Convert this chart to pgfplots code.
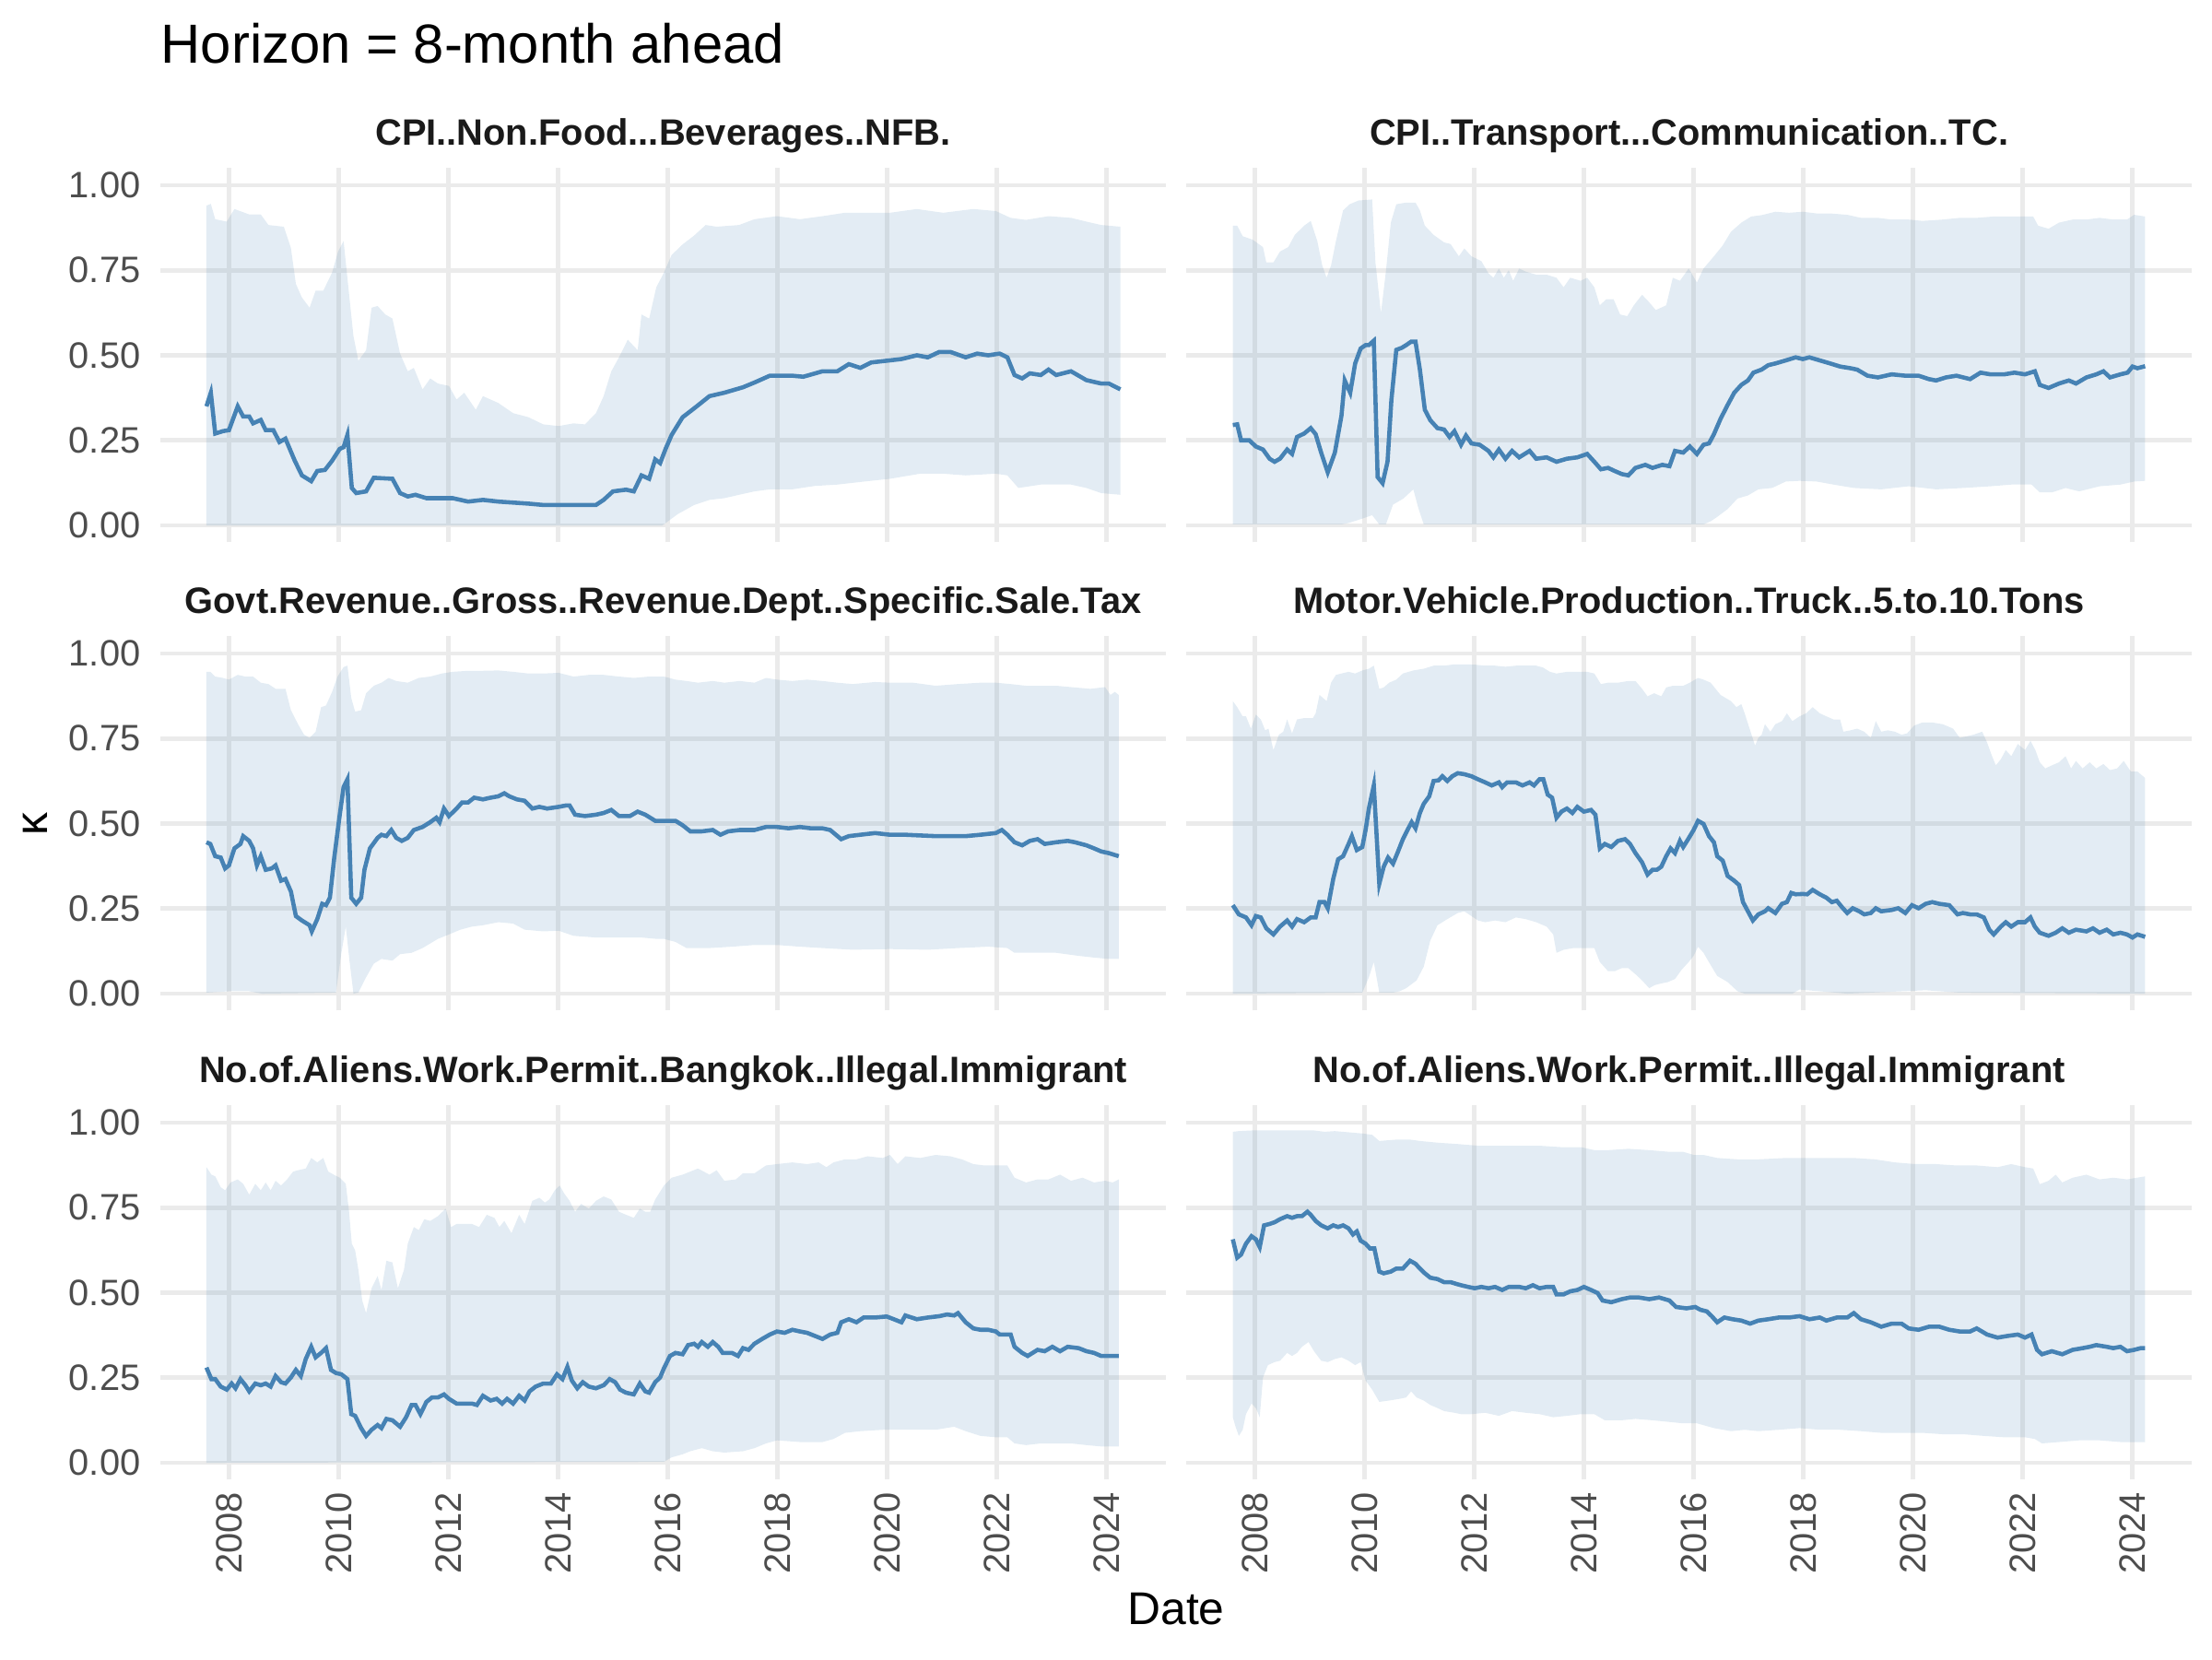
\documentclass[border=0pt]{standalone}
\usepackage{fontspec}
\setmainfont{Liberation Sans}
\usepackage{pgfplots}
\pgfplotsset{compat=1.18}
\usepgfplotslibrary{fillbetween}
\definecolor{steel}{RGB}{70,130,180}
\definecolor{gridc}{RGB}{235,235,235}
\definecolor{tickc}{RGB}{77,77,77}
\definecolor{stripc}{RGB}{26,26,26}
\pgfplotsset{
  every axis title/.style={at={(0.5,1)}, anchor=base, yshift=6.1bp, font=\bfseries\fontsize{9.6}{11}\selectfont, text=stripc, inner sep=0pt},
  panel/.style={
    scale only axis, width=261.84bp, height=97.44bp,
    xmin=2006.75, xmax=2025.08, ymin=-0.05, ymax=1.05,
    xtick={2008,2010,...,2024}, ytick={0,0.25,0.5,0.75,1},
    grid=major, major grid style={gridc, line width=1.16pt},
    axis line style={draw=none}, major tick length=0pt, tick style={draw=none},
    xticklabels={}, yticklabels={},
    anchor=north west,
  },
  ylab/.style={yticklabels={0.00,0.25,0.50,0.75,1.00},
    yticklabel style={font=\fontsize{9.6}{11}\selectfont, text=tickc, anchor=east, inner xsep=5bp, inner ysep=0pt}},
  xlab/.style={xticklabels={2008,2010,2012,2014,2016,2018,2020,2022,2024},
    xticklabel style={font=\fontsize{9.6}{11}\selectfont, text=tickc, rotate=90, anchor=east, inner xsep=3bp, inner ysep=0pt}},
  band/.style={draw=none, forget plot},
  mline/.style={steel, line width=1.1pt, no marks},
  rib/.style={fill=steel, fill opacity=0.15, draw=none},
}
\begin{document}
\begin{tikzpicture}
\path (0,0) rectangle (576bp,432bp);
\node[anchor=base west, inner sep=0pt, font=\fontsize{14.4}{16}\selectfont] at (41.76bp,415.56bp) {Horizon = 8-month ahead};
\node[anchor=base, inner sep=0pt, font=\fontsize{12}{14}\selectfont] at (306.24bp,9.12bp) {Date};
\node[rotate=90, inner sep=0pt, font=\fontsize{12}{14}\selectfont] at (9.12bp,217.44bp) {κ};

% ---------- Panel 1 ----------
\begin{axis}[panel, ylab, at={(41.76bp,388.2bp)}, title={CPI..Non.Food...Beverages..NFB.}]
\addplot[band, name path=p1u] coordinates {(2007.59,0.94)(2007.67,0.945)(2007.75,0.90)(2007.96,0.893)(2008.10,0.93)(2008.37,0.914)(2008.58,0.914)(2008.72,0.883)(2009.00,0.878)(2009.13,0.815)(2009.22,0.71)(2009.33,0.67)(2009.47,0.64)(2009.58,0.69)(2009.72,0.69)(2009.88,0.743)(2009.99,0.805)(2010.09,0.836)(2010.19,0.68)(2010.27,0.556)(2010.36,0.484)(2010.50,0.515)(2010.60,0.64)(2010.71,0.645)(2010.85,0.62)(2010.98,0.608)(2011.12,0.505)(2011.26,0.453)(2011.37,0.463)(2011.53,0.40)(2011.67,0.432)(2011.81,0.417)(2012.01,0.41)(2012.15,0.37)(2012.29,0.39)(2012.50,0.34)(2012.63,0.38)(2012.91,0.36)(2013.18,0.33)(2013.46,0.318)(2013.73,0.297)(2014.01,0.292)(2014.28,0.30)(2014.49,0.297)(2014.69,0.33)(2014.83,0.38)(2014.97,0.453)(2015.11,0.494)(2015.27,0.546)(2015.45,0.515)(2015.52,0.62)(2015.66,0.608)(2015.79,0.70)(2015.93,0.743)(2016.07,0.795)(2016.27,0.826)(2016.48,0.852)(2016.69,0.883)(2016.89,0.878)(2017.30,0.883)(2017.58,0.90)(2017.99,0.909)(2018.41,0.90)(2018.82,0.909)(2019.23,0.919)(2019.64,0.919)(2020.05,0.919)(2020.54,0.93)(2021.02,0.919)(2021.57,0.93)(2021.98,0.924)(2022.25,0.904)(2022.53,0.898)(2022.94,0.909)(2023.35,0.904)(2023.63,0.893)(2023.90,0.883)(2024.25,0.878)};
\addplot[band, name path=p1l] coordinates {(2007.59,0)(2015.90,0)(2015.96,0.007)(2016.18,0.033)(2016.48,0.06)(2016.76,0.075)(2017.03,0.08)(2017.30,0.09)(2017.58,0.10)(2017.86,0.106)(2018.27,0.106)(2018.68,0.116)(2019.09,0.12)(2019.64,0.13)(2020.05,0.137)(2020.60,0.152)(2021.02,0.152)(2021.43,0.147)(2021.98,0.152)(2022.19,0.147)(2022.39,0.11)(2022.80,0.12)(2023.35,0.12)(2023.63,0.11)(2023.90,0.095)(2024.25,0.09)};
\addplot[rib] fill between[of=p1u and p1l];
\addplot[mline] coordinates {(2007.59,0.35)(2007.67,0.39)(2007.75,0.27)(2007.89,0.277)(2008.00,0.28)(2008.16,0.35)(2008.26,0.32)(2008.37,0.32)(2008.44,0.30)(2008.58,0.31)(2008.67,0.28)(2008.81,0.28)(2008.92,0.245)(2009.03,0.255)(2009.20,0.19)(2009.33,0.147)(2009.50,0.13)(2009.61,0.16)(2009.75,0.163)(2009.88,0.19)(2010.02,0.225)(2010.09,0.23)(2010.16,0.266)(2010.24,0.11)(2010.32,0.095)(2010.50,0.10)(2010.64,0.14)(2010.98,0.137)(2011.12,0.095)(2011.26,0.085)(2011.40,0.09)(2011.60,0.08)(2011.81,0.08)(2012.08,0.08)(2012.36,0.07)(2012.63,0.075)(2012.91,0.07)(2013.46,0.064)(2013.73,0.06)(2014.01,0.06)(2014.69,0.06)(2014.83,0.075)(2015.00,0.10)(2015.24,0.105)(2015.38,0.10)(2015.52,0.147)(2015.66,0.137)(2015.77,0.194)(2015.86,0.183)(2015.96,0.225)(2016.07,0.266)(2016.27,0.318)(2016.48,0.344)(2016.76,0.38)(2017.03,0.39)(2017.37,0.406)(2017.58,0.42)(2017.86,0.44)(2018.27,0.44)(2018.47,0.437)(2018.82,0.453)(2019.09,0.453)(2019.30,0.474)(2019.51,0.463)(2019.71,0.479)(2019.99,0.484)(2020.26,0.489)(2020.54,0.50)(2020.74,0.494)(2020.95,0.51)(2021.15,0.51)(2021.43,0.494)(2021.64,0.505)(2021.84,0.50)(2022.05,0.505)(2022.19,0.494)(2022.32,0.442)(2022.46,0.432)(2022.60,0.447)(2022.80,0.442)(2022.94,0.458)(2023.08,0.442)(2023.35,0.453)(2023.63,0.427)(2023.90,0.417)(2024.04,0.417)(2024.25,0.40)};
\end{axis}

% ---------- Panel 2 ----------
\begin{axis}[panel, at={(308.88bp,388.2bp)}, title={CPI..Transport...Communication..TC.}]
\addplot[band, name path=p2u] coordinates {(2007.60,0.881)(2007.68,0.881)(2007.78,0.85)(2007.96,0.84)(2008.15,0.818)(2008.21,0.773)(2008.34,0.773)(2008.46,0.805)(2008.61,0.818)(2008.73,0.854)(2008.90,0.881)(2009.02,0.895)(2009.14,0.836)(2009.23,0.764)(2009.31,0.728)(2009.39,0.764)(2009.48,0.836)(2009.61,0.926)(2009.73,0.944)(2009.89,0.955)(2010.14,0.958)(2010.20,0.773)(2010.30,0.624)(2010.39,0.746)(2010.48,0.89)(2010.58,0.944)(2010.76,0.949)(2010.93,0.949)(2011.01,0.926)(2011.10,0.881)(2011.26,0.854)(2011.45,0.832)(2011.57,0.827)(2011.72,0.791)(2011.82,0.814)(2011.95,0.791)(2012.13,0.777)(2012.26,0.741)(2012.35,0.728)(2012.45,0.755)(2012.54,0.728)(2012.63,0.75)(2012.71,0.719)(2012.82,0.755)(2012.94,0.746)(2013.13,0.737)(2013.32,0.737)(2013.50,0.728)(2013.63,0.70)(2013.75,0.728)(2013.94,0.719)(2014.06,0.728)(2014.19,0.70)(2014.29,0.647)(2014.41,0.665)(2014.54,0.665)(2014.66,0.62)(2014.79,0.615)(2014.91,0.647)(2015.06,0.678)(2015.19,0.656)(2015.31,0.633)(2015.50,0.647)(2015.62,0.728)(2015.75,0.719)(2015.91,0.755)(2016.06,0.714)(2016.18,0.755)(2016.37,0.791)(2016.53,0.823)(2016.68,0.863)(2016.87,0.89)(2017.05,0.908)(2017.24,0.912)(2017.49,0.922)(2017.74,0.919)(2017.99,0.922)(2018.24,0.917)(2018.49,0.917)(2018.80,0.913)(2019.05,0.904)(2019.36,0.904)(2019.61,0.899)(2019.92,0.899)(2020.17,0.895)(2020.54,0.899)(2020.85,0.904)(2021.16,0.904)(2021.47,0.908)(2021.79,0.908)(2022.04,0.908)(2022.19,0.908)(2022.28,0.881)(2022.47,0.872)(2022.66,0.89)(2022.91,0.899)(2023.16,0.899)(2023.40,0.904)(2023.65,0.899)(2023.90,0.899)(2024.03,0.913)(2024.23,0.908)};
\addplot[band, name path=p2l] coordinates {(2007.60,0.003)(2009.58,0.003)(2009.71,0.007)(2009.96,0.02)(2010.14,0.03)(2010.27,0.003)(2010.39,0.003)(2010.52,0.061)(2010.71,0.079)(2010.89,0.106)(2010.98,0.052)(2011.08,0.003)(2016.18,0.003)(2016.31,0.012)(2016.43,0.025)(2016.62,0.048)(2016.80,0.079)(2016.99,0.088)(2017.18,0.106)(2017.43,0.11)(2017.68,0.129)(2017.93,0.131)(2018.24,0.129)(2018.55,0.12)(2018.92,0.11)(2019.42,0.106)(2019.92,0.115)(2020.42,0.106)(2020.91,0.11)(2021.41,0.115)(2021.79,0.12)(2022.16,0.12)(2022.31,0.097)(2022.53,0.097)(2022.78,0.11)(2023.03,0.10)(2023.40,0.115)(2023.78,0.12)(2024.03,0.129)(2024.23,0.131)};
\addplot[rib] fill between[of=p2u and p2l];
\addplot[mline] coordinates {(2007.60,0.295)(2007.68,0.297)(2007.75,0.25)(2007.90,0.25)(2008.02,0.232)(2008.15,0.223)(2008.27,0.196)(2008.36,0.187)(2008.46,0.196)(2008.59,0.223)(2008.68,0.21)(2008.77,0.26)(2008.90,0.27)(2009.02,0.286)(2009.11,0.268)(2009.21,0.214)(2009.33,0.156)(2009.46,0.214)(2009.58,0.322)(2009.64,0.426)(2009.74,0.39)(2009.83,0.476)(2009.93,0.52)(2010.02,0.53)(2010.08,0.53)(2010.17,0.543)(2010.24,0.142)(2010.33,0.124)(2010.42,0.187)(2010.49,0.368)(2010.58,0.516)(2010.68,0.522)(2010.76,0.53)(2010.85,0.54)(2010.93,0.54)(2011.01,0.458)(2011.10,0.34)(2011.20,0.309)(2011.33,0.286)(2011.45,0.282)(2011.55,0.26)(2011.64,0.277)(2011.76,0.237)(2011.85,0.264)(2011.95,0.241)(2012.10,0.237)(2012.26,0.219)(2012.35,0.20)(2012.45,0.223)(2012.57,0.196)(2012.69,0.219)(2012.82,0.20)(2013.01,0.219)(2013.13,0.196)(2013.32,0.20)(2013.50,0.187)(2013.69,0.196)(2013.88,0.20)(2014.06,0.21)(2014.19,0.187)(2014.31,0.165)(2014.44,0.169)(2014.56,0.16)(2014.69,0.151)(2014.81,0.147)(2014.94,0.169)(2015.12,0.178)(2015.25,0.169)(2015.43,0.178)(2015.56,0.174)(2015.66,0.219)(2015.81,0.214)(2015.93,0.232)(2016.06,0.21)(2016.18,0.237)(2016.28,0.241)(2016.37,0.268)(2016.49,0.313)(2016.62,0.354)(2016.74,0.39)(2016.87,0.413)(2016.99,0.426)(2017.09,0.449)(2017.24,0.458)(2017.36,0.471)(2017.49,0.476)(2017.68,0.485)(2017.86,0.494)(2017.99,0.489)(2018.11,0.494)(2018.30,0.485)(2018.49,0.476)(2018.67,0.467)(2018.86,0.462)(2018.98,0.458)(2019.17,0.44)(2019.36,0.435)(2019.61,0.444)(2019.86,0.44)(2020.10,0.44)(2020.29,0.43)(2020.42,0.426)(2020.60,0.435)(2020.79,0.44)(2021.04,0.43)(2021.23,0.449)(2021.41,0.444)(2021.66,0.444)(2021.85,0.449)(2022.04,0.444)(2022.22,0.453)(2022.31,0.413)(2022.47,0.404)(2022.66,0.417)(2022.84,0.426)(2022.97,0.417)(2023.16,0.435)(2023.34,0.444)(2023.47,0.453)(2023.59,0.435)(2023.78,0.444)(2023.91,0.449)(2024.00,0.467)(2024.09,0.462)(2024.23,0.468)};
\end{axis}

% ---------- Panel 3 ----------
\begin{axis}[panel, ylab, at={(41.76bp,266.28bp)}, title={Govt.Revenue..Gross..Revenue.Dept..Specific.Sale.Tax}]
\addplot[band, name path=p3u] coordinates {(2007.59,0.946)(2007.66,0.946)(2007.75,0.932)(2007.89,0.928)(2008.00,0.923)(2008.16,0.937)(2008.30,0.932)(2008.44,0.932)(2008.58,0.914)(2008.72,0.91)(2008.85,0.896)(2009.03,0.896)(2009.13,0.833)(2009.26,0.792)(2009.37,0.761)(2009.47,0.752)(2009.58,0.77)(2009.68,0.842)(2009.77,0.847)(2009.88,0.887)(2009.98,0.932)(2010.09,0.96)(2010.16,0.964)(2010.23,0.869)(2010.30,0.829)(2010.41,0.833)(2010.50,0.883)(2010.64,0.905)(2010.78,0.914)(2010.91,0.928)(2011.05,0.919)(2011.26,0.914)(2011.46,0.928)(2011.67,0.932)(2011.88,0.941)(2012.08,0.946)(2012.36,0.949)(2012.63,0.949)(2012.91,0.95)(2013.18,0.946)(2013.46,0.941)(2013.73,0.941)(2014.01,0.943)(2014.28,0.932)(2014.56,0.937)(2014.83,0.937)(2015.11,0.932)(2015.38,0.928)(2015.66,0.932)(2015.93,0.932)(2016.14,0.923)(2016.34,0.919)(2016.55,0.914)(2016.82,0.919)(2017.03,0.914)(2017.31,0.919)(2017.58,0.914)(2017.79,0.928)(2017.99,0.923)(2018.27,0.919)(2018.54,0.923)(2018.82,0.919)(2019.09,0.914)(2019.37,0.91)(2019.78,0.916)(2020.05,0.914)(2020.47,0.914)(2020.88,0.905)(2021.29,0.91)(2021.70,0.914)(2021.98,0.914)(2022.25,0.91)(2022.53,0.905)(2022.80,0.905)(2023.08,0.905)(2023.35,0.901)(2023.70,0.896)(2023.97,0.901)(2024.07,0.878)(2024.15,0.887)(2024.22,0.878)};
\addplot[band, name path=p3l] coordinates {(2007.59,0.003)(2008.00,0.007)(2008.37,0.007)(2008.60,0.0)(2009.95,0.003)(2010.05,0.12)(2010.13,0.197)(2010.20,0.093)(2010.27,0.0)(2010.36,0.003)(2010.50,0.048)(2010.64,0.088)(2010.78,0.102)(2010.98,0.097)(2011.12,0.116)(2011.33,0.12)(2011.53,0.134)(2011.81,0.161)(2012.01,0.174)(2012.22,0.188)(2012.43,0.197)(2012.63,0.201)(2012.91,0.21)(2013.18,0.206)(2013.39,0.188)(2013.73,0.183)(2014.01,0.185)(2014.28,0.17)(2014.69,0.165)(2015.11,0.165)(2015.52,0.165)(2015.79,0.161)(2015.93,0.161)(2016.14,0.152)(2016.34,0.134)(2016.76,0.134)(2017.17,0.138)(2017.58,0.143)(2017.99,0.143)(2018.41,0.138)(2018.82,0.134)(2019.37,0.129)(2020.05,0.131)(2020.74,0.129)(2021.29,0.134)(2021.84,0.138)(2022.19,0.134)(2022.32,0.12)(2022.67,0.12)(2023.08,0.12)(2023.49,0.111)(2023.77,0.106)(2024.04,0.102)(2024.22,0.102)};
\addplot[rib] fill between[of=p3u and p3l];
\addplot[mline] coordinates {(2007.59,0.445)(2007.66,0.44)(2007.75,0.404)(2007.85,0.40)(2007.93,0.368)(2008.00,0.377)(2008.10,0.427)(2008.21,0.44)(2008.26,0.463)(2008.37,0.449)(2008.44,0.427)(2008.51,0.377)(2008.58,0.404)(2008.67,0.364)(2008.78,0.368)(2008.85,0.377)(2008.95,0.332)(2009.03,0.337)(2009.13,0.30)(2009.22,0.228)(2009.33,0.215)(2009.47,0.201)(2009.51,0.183)(2009.61,0.219)(2009.70,0.264)(2009.77,0.26)(2009.84,0.282)(2009.92,0.40)(2010.02,0.526)(2010.09,0.607)(2010.16,0.63)(2010.23,0.282)(2010.32,0.264)(2010.41,0.282)(2010.47,0.364)(2010.57,0.427)(2010.71,0.458)(2010.78,0.467)(2010.87,0.463)(2010.96,0.481)(2011.05,0.458)(2011.15,0.449)(2011.26,0.458)(2011.37,0.481)(2011.53,0.49)(2011.67,0.504)(2011.78,0.517)(2011.84,0.504)(2011.92,0.544)(2012.01,0.522)(2012.15,0.544)(2012.25,0.562)(2012.36,0.562)(2012.47,0.576)(2012.63,0.571)(2012.77,0.576)(2012.91,0.58)(2013.02,0.589)(2013.11,0.58)(2013.25,0.571)(2013.39,0.567)(2013.53,0.544)(2013.66,0.549)(2013.80,0.544)(2014.01,0.549)(2014.14,0.553)(2014.21,0.553)(2014.31,0.526)(2014.49,0.522)(2014.69,0.526)(2014.83,0.531)(2014.97,0.54)(2015.11,0.522)(2015.31,0.522)(2015.45,0.535)(2015.59,0.526)(2015.77,0.508)(2015.93,0.508)(2016.14,0.508)(2016.27,0.495)(2016.41,0.477)(2016.62,0.477)(2016.82,0.481)(2016.96,0.467)(2017.10,0.477)(2017.31,0.481)(2017.58,0.481)(2017.79,0.49)(2017.99,0.49)(2018.20,0.486)(2018.41,0.49)(2018.61,0.486)(2018.82,0.486)(2018.96,0.481)(2019.16,0.454)(2019.30,0.463)(2019.51,0.467)(2019.78,0.472)(2020.05,0.467)(2020.33,0.467)(2020.60,0.465)(2020.88,0.463)(2021.15,0.463)(2021.43,0.463)(2021.70,0.467)(2021.98,0.472)(2022.09,0.481)(2022.19,0.467)(2022.32,0.445)(2022.46,0.436)(2022.60,0.449)(2022.74,0.454)(2022.87,0.44)(2023.08,0.445)(2023.29,0.449)(2023.42,0.445)(2023.63,0.436)(2023.77,0.427)(2023.90,0.418)(2024.04,0.413)(2024.22,0.404)};
\end{axis}

% ---------- Panel 4 ----------
\begin{axis}[panel, at={(308.88bp,266.28bp)}, title={Motor.Vehicle.Production..Truck..5.to.10.Tons}]
\addplot[band, name path=p4u] coordinates {(2007.60,0.86)(2007.68,0.842)(2007.78,0.815)(2007.84,0.815)(2007.93,0.779)(2008.02,0.82)(2008.11,0.806)(2008.19,0.774)(2008.25,0.779)(2008.34,0.716)(2008.44,0.761)(2008.52,0.77)(2008.59,0.806)(2008.68,0.765)(2008.77,0.806)(2008.90,0.81)(2009.06,0.81)(2009.11,0.824)(2009.18,0.878)(2009.31,0.86)(2009.39,0.914)(2009.48,0.937)(2009.58,0.941)(2009.71,0.946)(2009.83,0.941)(2009.96,0.95)(2010.08,0.955)(2010.17,0.964)(2010.27,0.896)(2010.35,0.90)(2010.45,0.914)(2010.58,0.923)(2010.70,0.941)(2010.89,0.95)(2011.08,0.955)(2011.26,0.964)(2011.45,0.964)(2011.64,0.968)(2011.82,0.968)(2012.01,0.967)(2012.20,0.964)(2012.38,0.964)(2012.57,0.961)(2012.76,0.964)(2012.94,0.964)(2013.13,0.964)(2013.25,0.959)(2013.38,0.946)(2013.50,0.941)(2013.69,0.946)(2013.88,0.946)(2014.06,0.946)(2014.19,0.941)(2014.31,0.91)(2014.44,0.914)(2014.62,0.914)(2014.81,0.919)(2014.94,0.919)(2015.06,0.896)(2015.16,0.874)(2015.28,0.883)(2015.41,0.874)(2015.50,0.90)(2015.62,0.905)(2015.81,0.905)(2015.93,0.914)(2016.08,0.928)(2016.18,0.923)(2016.31,0.914)(2016.49,0.878)(2016.68,0.86)(2016.78,0.842)(2016.87,0.851)(2016.93,0.824)(2017.03,0.774)(2017.12,0.729)(2017.18,0.752)(2017.24,0.761)(2017.30,0.792)(2017.40,0.77)(2017.49,0.792)(2017.61,0.801)(2017.70,0.824)(2017.80,0.801)(2017.93,0.815)(2018.05,0.824)(2018.17,0.842)(2018.30,0.824)(2018.42,0.815)(2018.55,0.806)(2018.67,0.806)(2018.73,0.77)(2018.86,0.774)(2018.98,0.779)(2019.11,0.77)(2019.23,0.752)(2019.32,0.801)(2019.42,0.77)(2019.54,0.774)(2019.67,0.77)(2019.79,0.761)(2019.89,0.765)(2020.02,0.788)(2020.17,0.797)(2020.35,0.797)(2020.54,0.792)(2020.73,0.779)(2020.85,0.752)(2020.97,0.756)(2021.10,0.761)(2021.26,0.77)(2021.35,0.738)(2021.44,0.698)(2021.51,0.671)(2021.60,0.689)(2021.69,0.716)(2021.79,0.698)(2021.91,0.734)(2022.04,0.716)(2022.14,0.743)(2022.23,0.716)(2022.31,0.68)(2022.41,0.662)(2022.53,0.671)(2022.66,0.68)(2022.78,0.698)(2022.88,0.662)(2022.97,0.684)(2023.09,0.662)(2023.22,0.68)(2023.34,0.662)(2023.47,0.675)(2023.59,0.657)(2023.72,0.662)(2023.84,0.684)(2023.97,0.653)(2024.09,0.653)(2024.23,0.634)};
\addplot[band, name path=p4l] coordinates {(2007.60,0.0)(2009.96,0.003)(2010.08,0.048)(2010.17,0.093)(2010.27,0.003)(2010.52,0.003)(2010.64,0.007)(2010.76,0.016)(2010.95,0.039)(2011.08,0.079)(2011.20,0.156)(2011.33,0.201)(2011.51,0.219)(2011.70,0.237)(2011.82,0.242)(2011.95,0.228)(2012.07,0.215)(2012.20,0.21)(2012.38,0.215)(2012.57,0.21)(2012.76,0.224)(2012.94,0.219)(2013.13,0.21)(2013.32,0.197)(2013.44,0.174)(2013.50,0.12)(2013.63,0.129)(2013.81,0.134)(2014.00,0.134)(2014.19,0.134)(2014.29,0.093)(2014.44,0.066)(2014.56,0.066)(2014.69,0.075)(2014.81,0.075)(2014.94,0.057)(2015.06,0.039)(2015.19,0.016)(2015.29,0.025)(2015.41,0.03)(2015.53,0.034)(2015.66,0.043)(2015.78,0.07)(2015.91,0.093)(2016.00,0.111)(2016.08,0.138)(2016.18,0.12)(2016.31,0.084)(2016.43,0.052)(2016.62,0.034)(2016.80,0.007)(2016.93,0.0)(2017.80,0.0)(2017.93,0.012)(2018.30,0.007)(2018.80,0.0)(2020.23,0.01)(2020.85,0.003)(2024.23,0.0)};
\addplot[rib] fill between[of=p4u and p4l];
\addplot[mline] coordinates {(2007.60,0.26)(2007.71,0.233)(2007.84,0.224)(2007.94,0.201)(2008.02,0.228)(2008.11,0.224)(2008.21,0.192)(2008.34,0.174)(2008.46,0.197)(2008.59,0.215)(2008.68,0.197)(2008.77,0.219)(2008.90,0.21)(2009.02,0.224)(2009.11,0.224)(2009.18,0.269)(2009.27,0.269)(2009.33,0.251)(2009.43,0.337)(2009.52,0.395)(2009.61,0.404)(2009.71,0.44)(2009.77,0.463)(2009.86,0.422)(2009.96,0.431)(2010.02,0.481)(2010.08,0.544)(2010.17,0.612)(2010.27,0.323)(2010.35,0.373)(2010.43,0.40)(2010.52,0.382)(2010.60,0.413)(2010.70,0.454)(2010.80,0.486)(2010.86,0.504)(2010.93,0.486)(2011.01,0.531)(2011.08,0.558)(2011.18,0.58)(2011.26,0.625)(2011.35,0.627)(2011.42,0.639)(2011.51,0.625)(2011.60,0.639)(2011.70,0.648)(2011.82,0.645)(2011.95,0.639)(2012.07,0.63)(2012.20,0.621)(2012.32,0.612)(2012.45,0.621)(2012.51,0.607)(2012.60,0.621)(2012.76,0.621)(2012.88,0.612)(2013.01,0.621)(2013.09,0.612)(2013.19,0.63)(2013.26,0.63)(2013.34,0.585)(2013.42,0.576)(2013.50,0.517)(2013.59,0.535)(2013.69,0.544)(2013.79,0.531)(2013.88,0.549)(2014.00,0.535)(2014.13,0.54)(2014.21,0.526)(2014.29,0.427)(2014.38,0.44)(2014.50,0.431)(2014.62,0.449)(2014.75,0.454)(2014.84,0.44)(2014.94,0.413)(2015.06,0.386)(2015.16,0.35)(2015.25,0.364)(2015.33,0.364)(2015.41,0.373)(2015.50,0.404)(2015.58,0.427)(2015.66,0.413)(2015.75,0.449)(2015.81,0.431)(2015.90,0.454)(2016.00,0.481)(2016.08,0.508)(2016.18,0.499)(2016.28,0.463)(2016.37,0.445)(2016.43,0.404)(2016.53,0.391)(2016.62,0.346)(2016.74,0.332)(2016.83,0.319)(2016.90,0.269)(2016.99,0.242)(2017.08,0.215)(2017.18,0.233)(2017.30,0.242)(2017.36,0.251)(2017.49,0.237)(2017.61,0.264)(2017.70,0.269)(2017.78,0.296)(2017.86,0.292)(2017.99,0.293)(2018.07,0.292)(2018.17,0.305)(2018.30,0.292)(2018.42,0.282)(2018.52,0.269)(2018.61,0.273)(2018.70,0.255)(2018.80,0.237)(2018.90,0.251)(2019.02,0.242)(2019.11,0.233)(2019.23,0.237)(2019.32,0.251)(2019.42,0.242)(2019.61,0.246)(2019.73,0.251)(2019.86,0.237)(2019.98,0.26)(2020.10,0.251)(2020.23,0.264)(2020.35,0.269)(2020.48,0.264)(2020.66,0.26)(2020.81,0.233)(2020.91,0.237)(2021.04,0.233)(2021.16,0.233)(2021.29,0.224)(2021.39,0.188)(2021.47,0.174)(2021.60,0.197)(2021.69,0.21)(2021.79,0.197)(2021.91,0.21)(2022.04,0.21)(2022.14,0.224)(2022.22,0.197)(2022.31,0.179)(2022.47,0.17)(2022.60,0.179)(2022.72,0.192)(2022.84,0.179)(2022.97,0.188)(2023.16,0.183)(2023.28,0.192)(2023.40,0.179)(2023.53,0.188)(2023.65,0.174)(2023.78,0.179)(2023.90,0.174)(2024.00,0.165)(2024.09,0.174)(2024.23,0.167)};
\end{axis}

% ---------- Panel 5 ----------
\begin{axis}[panel, ylab, xlab, at={(41.76bp,144.12bp)}, title={No.of.Aliens.Work.Permit..Bangkok..Illegal.Immigrant}]
\addplot[band, name path=p5u] coordinates {(2007.59,0.869)(2007.68,0.847)(2007.75,0.842)(2007.85,0.81)(2007.93,0.801)(2008.03,0.824)(2008.16,0.833)(2008.26,0.82)(2008.37,0.788)(2008.48,0.82)(2008.58,0.801)(2008.67,0.824)(2008.76,0.801)(2008.85,0.829)(2008.95,0.815)(2009.06,0.833)(2009.17,0.856)(2009.26,0.86)(2009.40,0.865)(2009.50,0.896)(2009.61,0.883)(2009.72,0.896)(2009.81,0.856)(2009.91,0.847)(2010.02,0.838)(2010.13,0.82)(2010.19,0.738)(2010.24,0.644)(2010.30,0.625)(2010.36,0.567)(2010.43,0.477)(2010.50,0.44)(2010.60,0.513)(2010.71,0.549)(2010.78,0.508)(2010.87,0.594)(2010.98,0.589)(2011.08,0.513)(2011.19,0.567)(2011.26,0.644)(2011.37,0.693)(2011.46,0.684)(2011.56,0.716)(2011.67,0.711)(2011.81,0.725)(2011.95,0.747)(2012.05,0.693)(2012.15,0.702)(2012.29,0.702)(2012.43,0.702)(2012.56,0.693)(2012.70,0.729)(2012.84,0.72)(2012.93,0.693)(2013.02,0.711)(2013.15,0.675)(2013.29,0.729)(2013.39,0.702)(2013.53,0.77)(2013.66,0.779)(2013.76,0.765)(2013.84,0.774)(2013.94,0.801)(2014.03,0.815)(2014.11,0.792)(2014.21,0.77)(2014.31,0.738)(2014.42,0.761)(2014.56,0.747)(2014.69,0.77)(2014.83,0.783)(2014.97,0.774)(2015.11,0.738)(2015.24,0.729)(2015.38,0.72)(2015.49,0.747)(2015.59,0.738)(2015.68,0.738)(2015.77,0.774)(2015.86,0.797)(2015.93,0.815)(2016.07,0.838)(2016.27,0.847)(2016.41,0.856)(2016.55,0.865)(2016.76,0.847)(2016.89,0.86)(2017.03,0.829)(2017.24,0.833)(2017.37,0.851)(2017.58,0.851)(2017.79,0.874)(2017.99,0.878)(2018.27,0.883)(2018.54,0.878)(2018.75,0.883)(2018.89,0.869)(2019.02,0.883)(2019.23,0.892)(2019.44,0.892)(2019.64,0.901)(2019.92,0.896)(2020.05,0.905)(2020.19,0.878)(2020.33,0.901)(2020.60,0.896)(2020.88,0.905)(2021.15,0.901)(2021.36,0.892)(2021.57,0.878)(2021.77,0.874)(2021.98,0.874)(2022.19,0.874)(2022.32,0.838)(2022.53,0.824)(2022.74,0.833)(2022.94,0.833)(2023.15,0.847)(2023.35,0.829)(2023.56,0.838)(2023.77,0.824)(2023.97,0.829)(2024.11,0.824)(2024.22,0.833)};
\addplot[band, name path=p5l] coordinates {(2007.59,0.0)(2015.93,0.003)(2016.07,0.016)(2016.27,0.025)(2016.41,0.034)(2016.62,0.043)(2016.82,0.034)(2017.03,0.03)(2017.37,0.034)(2017.58,0.043)(2017.79,0.057)(2017.99,0.066)(2018.41,0.061)(2018.82,0.061)(2019.02,0.07)(2019.23,0.088)(2019.51,0.093)(2019.92,0.097)(2020.33,0.097)(2020.88,0.097)(2021.22,0.106)(2021.43,0.093)(2021.70,0.079)(2021.98,0.075)(2022.19,0.075)(2022.32,0.057)(2022.53,0.052)(2022.80,0.057)(2023.08,0.057)(2023.35,0.057)(2023.63,0.052)(2023.90,0.048)(2024.22,0.048)};
\addplot[rib] fill between[of=p5u and p5l];
\addplot[mline] coordinates {(2007.59,0.28)(2007.68,0.246)(2007.75,0.246)(2007.85,0.224)(2007.96,0.215)(2008.05,0.233)(2008.12,0.219)(2008.21,0.246)(2008.30,0.228)(2008.37,0.21)(2008.48,0.233)(2008.58,0.228)(2008.67,0.233)(2008.76,0.224)(2008.85,0.255)(2008.95,0.237)(2009.03,0.233)(2009.13,0.251)(2009.22,0.273)(2009.31,0.255)(2009.40,0.305)(2009.50,0.341)(2009.58,0.31)(2009.68,0.323)(2009.77,0.337)(2009.86,0.273)(2009.95,0.264)(2010.05,0.26)(2010.16,0.246)(2010.23,0.143)(2010.30,0.138)(2010.41,0.102)(2010.50,0.079)(2010.60,0.097)(2010.71,0.111)(2010.78,0.102)(2010.87,0.129)(2010.98,0.125)(2011.12,0.106)(2011.23,0.134)(2011.33,0.17)(2011.40,0.17)(2011.49,0.143)(2011.60,0.179)(2011.70,0.192)(2011.81,0.192)(2011.92,0.201)(2012.01,0.188)(2012.15,0.174)(2012.29,0.174)(2012.43,0.174)(2012.52,0.17)(2012.63,0.197)(2012.77,0.183)(2012.88,0.188)(2012.98,0.174)(2013.07,0.188)(2013.18,0.174)(2013.29,0.197)(2013.39,0.183)(2013.48,0.21)(2013.59,0.224)(2013.73,0.233)(2013.87,0.233)(2013.98,0.26)(2014.08,0.246)(2014.17,0.282)(2014.25,0.242)(2014.35,0.219)(2014.45,0.237)(2014.56,0.224)(2014.69,0.219)(2014.83,0.228)(2014.94,0.246)(2015.04,0.237)(2015.13,0.215)(2015.24,0.206)(2015.38,0.201)(2015.49,0.233)(2015.59,0.21)(2015.66,0.206)(2015.77,0.237)(2015.86,0.251)(2015.93,0.278)(2016.04,0.314)(2016.14,0.323)(2016.27,0.319)(2016.37,0.346)(2016.48,0.35)(2016.55,0.341)(2016.62,0.355)(2016.73,0.341)(2016.82,0.355)(2016.92,0.341)(2017.00,0.323)(2017.17,0.323)(2017.28,0.314)(2017.37,0.337)(2017.47,0.332)(2017.58,0.35)(2017.72,0.364)(2017.86,0.377)(2017.99,0.386)(2018.13,0.382)(2018.27,0.391)(2018.41,0.386)(2018.54,0.382)(2018.68,0.373)(2018.82,0.364)(2018.96,0.377)(2019.09,0.382)(2019.16,0.413)(2019.30,0.422)(2019.44,0.413)(2019.57,0.427)(2019.78,0.427)(2019.99,0.43)(2020.12,0.422)(2020.26,0.413)(2020.33,0.433)(2020.54,0.422)(2020.74,0.427)(2020.95,0.431)(2021.09,0.436)(2021.22,0.433)(2021.29,0.44)(2021.43,0.413)(2021.57,0.395)(2021.70,0.391)(2021.84,0.391)(2021.98,0.386)(2022.05,0.377)(2022.25,0.377)(2022.32,0.341)(2022.46,0.323)(2022.56,0.314)(2022.74,0.332)(2022.87,0.328)(2023.01,0.341)(2023.15,0.328)(2023.29,0.341)(2023.49,0.337)(2023.63,0.328)(2023.77,0.323)(2023.90,0.314)(2024.04,0.314)(2024.22,0.314)};
\end{axis}

% ---------- Panel 6 ----------
\begin{axis}[panel, xlab, at={(308.88bp,144.12bp)}, title={No.of.Aliens.Work.Permit..Illegal.Immigrant}]
\addplot[band, name path=p6u] coordinates {(2007.60,0.973)(2007.71,0.975)(2007.96,0.977)(2008.46,0.977)(2009.08,0.977)(2009.27,0.973)(2009.46,0.975)(2009.96,0.968)(2010.14,0.964)(2010.27,0.946)(2010.58,0.95)(2010.83,0.95)(2011.01,0.946)(2011.33,0.941)(2011.70,0.937)(2012.07,0.932)(2012.45,0.932)(2012.82,0.932)(2013.19,0.932)(2013.57,0.928)(2013.94,0.928)(2014.19,0.919)(2014.44,0.919)(2014.81,0.923)(2015.19,0.919)(2015.56,0.914)(2015.81,0.914)(2016.00,0.905)(2016.18,0.905)(2016.43,0.896)(2016.80,0.892)(2017.18,0.892)(2017.68,0.896)(2018.05,0.896)(2018.42,0.896)(2018.92,0.896)(2019.30,0.892)(2019.67,0.883)(2020.04,0.878)(2020.42,0.878)(2020.79,0.874)(2021.16,0.874)(2021.54,0.869)(2021.79,0.878)(2022.04,0.869)(2022.19,0.865)(2022.31,0.819)(2022.47,0.829)(2022.60,0.847)(2022.72,0.824)(2022.91,0.838)(2023.16,0.847)(2023.40,0.833)(2023.65,0.838)(2023.90,0.833)(2024.23,0.842)};
\addplot[band, name path=p6l] coordinates {(2007.60,0.134)(2007.65,0.106)(2007.71,0.079)(2007.78,0.097)(2007.84,0.143)(2007.94,0.174)(2008.02,0.161)(2008.09,0.134)(2008.15,0.251)(2008.24,0.287)(2008.36,0.296)(2008.46,0.30)(2008.59,0.323)(2008.68,0.314)(2008.77,0.323)(2008.86,0.341)(2008.98,0.355)(2009.08,0.328)(2009.21,0.30)(2009.33,0.296)(2009.46,0.305)(2009.58,0.31)(2009.71,0.30)(2009.83,0.287)(2009.93,0.296)(2010.02,0.242)(2010.14,0.215)(2010.27,0.179)(2010.45,0.183)(2010.64,0.188)(2010.76,0.192)(2010.85,0.21)(2010.95,0.192)(2011.08,0.183)(2011.20,0.17)(2011.33,0.161)(2011.45,0.152)(2011.64,0.147)(2011.76,0.143)(2011.95,0.143)(2012.20,0.147)(2012.45,0.138)(2012.69,0.152)(2012.94,0.147)(2013.19,0.143)(2013.44,0.134)(2013.69,0.138)(2013.94,0.143)(2014.19,0.143)(2014.38,0.125)(2014.69,0.125)(2014.94,0.129)(2015.25,0.125)(2015.56,0.12)(2015.81,0.116)(2016.06,0.116)(2016.37,0.102)(2016.68,0.093)(2016.93,0.097)(2017.18,0.093)(2017.55,0.097)(2017.93,0.102)(2018.30,0.097)(2018.67,0.097)(2019.05,0.093)(2019.42,0.088)(2019.79,0.088)(2020.17,0.088)(2020.54,0.084)(2020.91,0.084)(2021.29,0.079)(2021.66,0.075)(2022.04,0.075)(2022.22,0.07)(2022.35,0.057)(2022.66,0.061)(2023.03,0.066)(2023.40,0.066)(2023.78,0.061)(2024.23,0.061)};
\addplot[rib] fill between[of=p6u and p6l];
\addplot[mline] coordinates {(2007.60,0.657)(2007.68,0.603)(2007.75,0.612)(2007.84,0.644)(2007.94,0.666)(2008.02,0.657)(2008.09,0.634)(2008.17,0.698)(2008.27,0.702)(2008.36,0.707)(2008.46,0.716)(2008.59,0.725)(2008.68,0.72)(2008.77,0.725)(2008.86,0.725)(2008.96,0.738)(2009.02,0.729)(2009.11,0.711)(2009.21,0.698)(2009.33,0.689)(2009.43,0.698)(2009.52,0.693)(2009.61,0.698)(2009.71,0.689)(2009.79,0.671)(2009.86,0.68)(2009.93,0.653)(2010.02,0.644)(2010.10,0.63)(2010.18,0.63)(2010.27,0.562)(2010.35,0.557)(2010.48,0.562)(2010.58,0.571)(2010.70,0.571)(2010.83,0.594)(2010.93,0.585)(2011.01,0.571)(2011.10,0.557)(2011.20,0.544)(2011.33,0.54)(2011.45,0.531)(2011.57,0.531)(2011.67,0.526)(2011.76,0.522)(2011.89,0.517)(2012.01,0.513)(2012.13,0.517)(2012.26,0.513)(2012.38,0.517)(2012.51,0.508)(2012.63,0.517)(2012.82,0.517)(2012.94,0.513)(2013.07,0.522)(2013.19,0.513)(2013.32,0.517)(2013.44,0.517)(2013.50,0.495)(2013.63,0.495)(2013.75,0.504)(2013.88,0.508)(2014.00,0.517)(2014.13,0.508)(2014.25,0.499)(2014.34,0.477)(2014.50,0.472)(2014.69,0.481)(2014.84,0.486)(2015.00,0.486)(2015.19,0.481)(2015.37,0.486)(2015.56,0.477)(2015.68,0.458)(2015.87,0.454)(2016.03,0.458)(2016.12,0.45)(2016.24,0.445)(2016.33,0.431)(2016.43,0.413)(2016.56,0.427)(2016.71,0.422)(2016.87,0.418)(2017.03,0.409)(2017.18,0.418)(2017.36,0.422)(2017.55,0.427)(2017.74,0.427)(2017.93,0.431)(2018.11,0.422)(2018.30,0.427)(2018.42,0.418)(2018.61,0.427)(2018.80,0.427)(2018.92,0.44)(2019.05,0.422)(2019.23,0.413)(2019.42,0.40)(2019.61,0.409)(2019.79,0.409)(2019.92,0.395)(2020.10,0.391)(2020.29,0.40)(2020.48,0.40)(2020.66,0.391)(2020.85,0.386)(2021.04,0.386)(2021.16,0.395)(2021.35,0.377)(2021.54,0.368)(2021.73,0.373)(2021.91,0.377)(2022.04,0.368)(2022.16,0.377)(2022.26,0.332)(2022.35,0.319)(2022.53,0.328)(2022.72,0.319)(2022.91,0.332)(2023.09,0.337)(2023.22,0.341)(2023.34,0.346)(2023.53,0.341)(2023.65,0.337)(2023.78,0.341)(2023.90,0.328)(2024.03,0.332)(2024.15,0.337)(2024.23,0.337)};
\end{axis}
\pgfresetboundingbox
\path (0,0) rectangle (576bp,432bp);
\end{tikzpicture}
\end{document}
